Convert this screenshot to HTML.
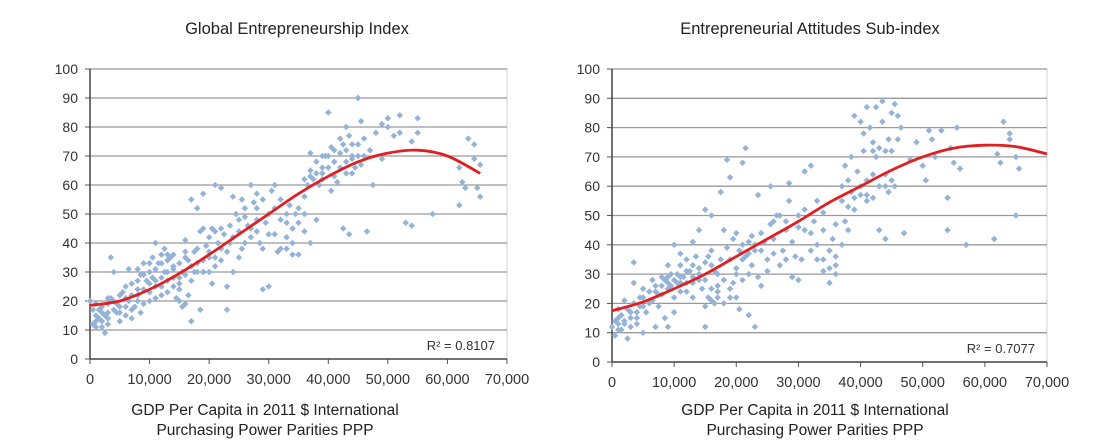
<!DOCTYPE html>
<html><head><meta charset="utf-8"><style>
body{margin:0;background:#fff;}
svg{display:block;font-family:"Liberation Sans",sans-serif;}
</style></head><body>
<svg id="s" width="1101" height="447"></svg>
<script>
const yTicks=[0,10,20,30,40,50,60,70,80,90,100];
const xTicks=[0,10000,20000,30000,40000,50000,60000,70000];
const xTickLabels=["0","10,000","20,000","30,000","40,000","50,000","60,000","70,000"];
const gei=[[0,20],[0.5,12],[1,15],[1,11],[1.5,17],[2,13],[2.5,9],[3,12],[3,19],[3.5,35],[4,20],[4,30],[4.5,16],[5,13],[5,22],[6,18],[6,25],[6.5,31],[7,14],[7,22],[8,20],[8,27],[8.5,16],[9,24],[9,33],[10,20],[10,30],[10.5,35],[11,40],[11,25],[12,22],[12,33],[12.5,38],[13,27],[13,30],[14,25],[14,36],[15,20],[15,33],[15.5,18],[16,29],[16,41],[16.5,22],[17,13],[17,55],[17.5,30],[18,52],[18,38],[18.5,17],[19,45],[19,57],[20,30],[20,42],[20.5,26],[21,60],[21,35],[22,45],[22,59],[23,17],[23,25],[23.5,40],[24,56],[24,30],[25,48],[25,35],[25.5,55],[26,40],[27,60],[27,45],[28,52],[28,57],[29,24],[29,38],[30,50],[30,25],[30.5,58],[31,60],[31,43],[32,38],[32,55],[33,47],[33,38],[34,45],[34,36],[35,52],[35,36],[36,62],[36,50],[37,71],[37,40],[38,64],[38,48],[39,66],[39,62],[40,85],[40,70],[40.5,58],[41,72],[41,63],[42,76],[42,66],[42.5,45],[43,80],[43,68],[43.5,43],[44,74],[44,64],[45,90],[45,70],[45.5,82],[46,76],[46.5,44],[47,72],[47.5,60],[48,78],[49,81],[49,69],[50,80],[50,83],[51,77],[52,84],[52,78],[53,47],[54,75],[54,46],[55,83],[55,78],[57.5,50],[62,66],[62,53],[62.5,61],[63,59],[63.5,76],[64.5,69],[64.5,74],[65,59],[65.5,67],[65.5,56],[2,16],[3,14],[6,21],[8,24],[10,26],[11,31],[12,28],[13,34],[14,31],[15,26],[16,35],[18,30],[19,34],[20,37],[21,44],[22,38],[26,49],[28,44],[33,50],[36,56],[37,63],[39,70],[41,68],[43,72],[44,70]];
const geiExtra=[[0.5,17],[1,13],[1.5,14],[2,18],[2.5,15],[3,16],[3.5,21],[4,17],[4.5,19],[5,18],[5.5,23],[6,15],[6.5,20],[7,26],[7.5,18],[8,22],[8.5,29],[9,19],[9.5,27],[10,23],[10.5,28],[11,21],[11.5,33],[12,25],[12.5,30],[13,23],[13.5,35],[14,28],[14.5,21],[15,24],[15.5,30],[16,19],[16.5,34],[17,27],[17.5,37],[18,33],[18.5,44],[19,30],[19.5,39],[20,35],[20.5,45],[21,32],[21.5,40],[22,34],[22.5,43],[23,37],[23.5,46],[24,42],[24.5,50],[25,44],[25.5,38],[26,52],[26.5,46],[27,42],[27.5,54],[28,48],[28.5,40],[29,55],[29.5,47],[30,43],[31,52],[31.5,37],[32,48],[33,42],[33.5,53],[34,40],[34.5,50],[35,47],[36,44],[36.5,60],[37,65],[37.5,62],[38,68],[38.5,60],[39,64],[39.5,70],[40,66],[40.5,73],[41,68],[41.5,61],[42,71],[42.5,74],[43,64],[43.5,77],[44,69],[44.5,66],[45,74],[45.5,67],[46,70],[1,19],[2,11],[3,21],[5,16],[7,17],[9,29],[11,27],[13,36],[15,28],[17,32],[16,37],[14,32],[12,36],[10,33],[8,31]];
const geiTrend=[[0,18.5],[5,20],[10,24],[15,29.5],[20,36],[25,43],[30,50],[35,57],[40,63],[45,68],[50,71],[55,72],[60,70],[65.5,64]];
const eas=[[0,12],[0.5,9],[1,15],[1,18],[1.5,11],[2,21],[2.5,8],[3,17],[3.5,27],[3.5,34],[4,13],[4.5,22],[5,10],[5,25],[6,20],[6.5,28],[7,12],[7.5,23],[8,29],[8.5,15],[9,12],[9,33],[9.5,26],[10,40],[10,17],[10.5,30],[11,37],[11,24],[12,35],[12,27],[13,41],[13,22],[14,45],[14,32],[15,52],[15,19],[15,12],[15.5,36],[16,25],[16,50],[16.5,20],[17,30],[17.5,58],[18,45],[18,20],[18.5,69],[19,63],[19,35],[19.5,27],[20,22],[20,44],[20.5,18],[21,68],[21,40],[21.5,73],[22,16],[22,30],[22.5,43],[23,12],[23,38],[23.5,57],[24,26],[24.5,41],[25,31],[25.5,60],[26,37],[26.5,50],[27,33],[28,45],[28.5,61],[29,29],[29.5,36],[30,28],[30,50],[31,65],[31,45],[32,67],[32,38],[33,40],[33,55],[34,31],[34,45],[35,38],[35,27],[36,30],[36,47],[37,40],[37,60],[37.5,67],[38,53],[38,45],[38.5,70],[39,84],[39,56],[40,82],[40,60],[40.5,78],[41,87],[41,55],[42,75],[42,64],[42.5,87],[43,73],[43,45],[43.5,89],[44,72],[44,42],[44.5,58],[45,85],[45,62],[45.5,88],[46,76],[46.5,80],[47,44],[48,69],[49,75],[50,67],[50.5,62],[51,79],[51.5,76],[52,70],[53,79],[54,56],[54,45],[54.5,73],[55,68],[55.5,80],[56,66],[57,40],[61.5,42],[62,71],[62.5,68],[63,82],[64,76],[64,78],[65,50],[65,70],[65.5,66],[2,14],[4,17],[6,24],[8,26],[9,29],[10,28],[11,27],[12,31],[13,29],[14,28],[16,21],[17,24],[19,22],[20,30],[21,35],[22,37],[24,38],[26,48],[28,35],[29,29],[34,35],[36,33],[41,57],[42,72],[44,60]];
const easExtra=[[0.5,14],[1,11],[1.5,16],[2,13],[2.5,18],[3,12],[3.5,20],[4,15],[4.5,19],[5,22],[5.5,17],[6,24],[6.5,21],[7,26],[7.5,19],[8,23],[8.5,28],[9,25],[9.5,30],[10,22],[10.5,27],[11,33],[11.5,29],[12,24],[12.5,31],[13,27],[13.5,36],[14,30],[14.5,25],[15,34],[15.5,22],[16,38],[16.5,31],[17,22],[17.5,35],[18,28],[18.5,39],[19,25],[19.5,42],[20,32],[20.5,38],[21,28],[21.5,36],[22,41],[22.5,33],[23,40],[23.5,29],[24,44],[25,35],[25.5,47],[26,42],[27,50],[27.5,38],[28,48],[28.5,55],[29,41],[30,46],[30.5,35],[31,52],[32,44],[32.5,48],[33,35],[34,51],[35,32],[35.5,42],[36,36],[37,55],[37.5,48],[38,62],[38.5,58],[39,52],[39.5,65],[40,57],[40.5,72],[41,62],[41.5,80],[42,56],[42.5,70],[43,60],[43.5,82],[44,64],[44.5,76],[45,72],[45.5,60],[46,84],[15,28],[16,33],[17,26],[13,33],[11,29],[9,27],[7,24],[5,19],[3,15],[1,13]];
const easTrend=[[0,17.5],[5,20.5],[10,25],[15,30],[20,36],[25,42],[30,48],[35,54.5],[40,60],[45,65.5],[50,70],[55,73],[60,74],[65,73.5],[70,71]];
const NS="http://www.w3.org/2000/svg";
const svg=document.getElementById('s');
function mk(tag,attrs,parent,txt){const e=document.createElementNS(NS,tag);for(const k in attrs)e.setAttribute(k,attrs[k]);if(txt!==undefined)e.textContent=txt;(parent||svg).appendChild(e);return e;}
function smooth(P){let d='M'+P[0][0]+','+P[0][1];for(let i=0;i<P.length-1;i++){const p0=P[i-1]||P[i],p1=P[i],p2=P[i+1],p3=P[i+2]||p2;const c1=[p1[0]+(p2[0]-p0[0])/6,p1[1]+(p2[1]-p0[1])/6],c2=[p2[0]-(p3[0]-p1[0])/6,p2[1]-(p3[1]-p1[1])/6];d+=` C${c1[0]},${c1[1]} ${c2[0]},${c2[1]} ${p2[0]},${p2[1]}`;}return d;}
function chart(id,L,R,T,B,title,tcx,pts,trend,r2,lx){
  const g=mk('g',{},svg);
  
  
  const X=v=>L+(v/70000)*(R-L), Y=v=>B-(v/100)*(B-T);
  const t=mk('text',{x:tcx,y:34,'text-anchor':'middle','font-size':16.5,fill:'#222'},g,title);
  
  mk('rect',{x:L,y:T,width:R-L,height:B-T,fill:'none',stroke:'#d0d0d0'},g);
  yTicks.forEach(v=>{
    if(v>0){const l=mk('line',{x1:L,x2:R,y1:Y(v),y2:Y(v),stroke:'#999','stroke-width':1.3},g);
    }
    mk('line',{x1:L-5,x2:L,y1:Y(v),y2:Y(v),stroke:'#555'},g);
    const tl=mk('text',{x:L-12,y:Y(v)+5,'text-anchor':'end','font-size':14,fill:'#333'},g,v);
    
  });
  xTicks.forEach((v,i)=>{
    mk('line',{x1:X(v),x2:X(v),y1:B,y2:B+5,stroke:'#555'},g);
    const tl=mk('text',{x:X(v),y:B+25,'text-anchor':'middle','font-size':14.5,fill:'#333'},g,xTickLabels[i]);
    
  });
  mk('line',{x1:L,x2:L,y1:T,y2:B,stroke:'#444','stroke-width':1.5},g);
  mk('line',{x1:L,x2:R,y1:B,y2:B,stroke:'#444','stroke-width':1.5},g);
  pts.forEach(p=>{
    const c=mk('rect',{x:X(p[0]*1000)-2.3,y:Y(p[1])-2.3,width:4.6,height:4.6,fill:'#95b3d7',transform:`rotate(45 ${X(p[0]*1000)} ${Y(p[1])})`},g);
    
  });
  const tr=mk('path',{d:smooth(trend.map(p=>[X(p[0]*1000),Y(p[1])])),fill:'none',stroke:'#e02020','stroke-width':2.8},g);
  
  const rt=mk('text',{x:R-12,y:B-9,'text-anchor':'end','font-size':13,fill:'#333'},g,r2);
  
  const a1=mk('text',{x:lx,y:415,'text-anchor':'middle','font-size':15.5,fill:'#222'},g,'GDP Per Capita in 2011 $ International');
  
  const a2=mk('text',{x:lx,y:435,'text-anchor':'middle','font-size':15.5,fill:'#222'},g,'Purchasing Power Parities PPP');
  
}
chart('gei-chart',90,507,69,359,'Global Entrepreneurship Index',297,gei.concat(geiExtra),geiTrend,'R² = 0.8107',265);
chart('eas-chart',612,1047,69,362,'Entrepreneurial Attitudes Sub-index',810,eas.concat(easExtra),easTrend,'R² = 0.7077',815);
</script>
</body></html>
